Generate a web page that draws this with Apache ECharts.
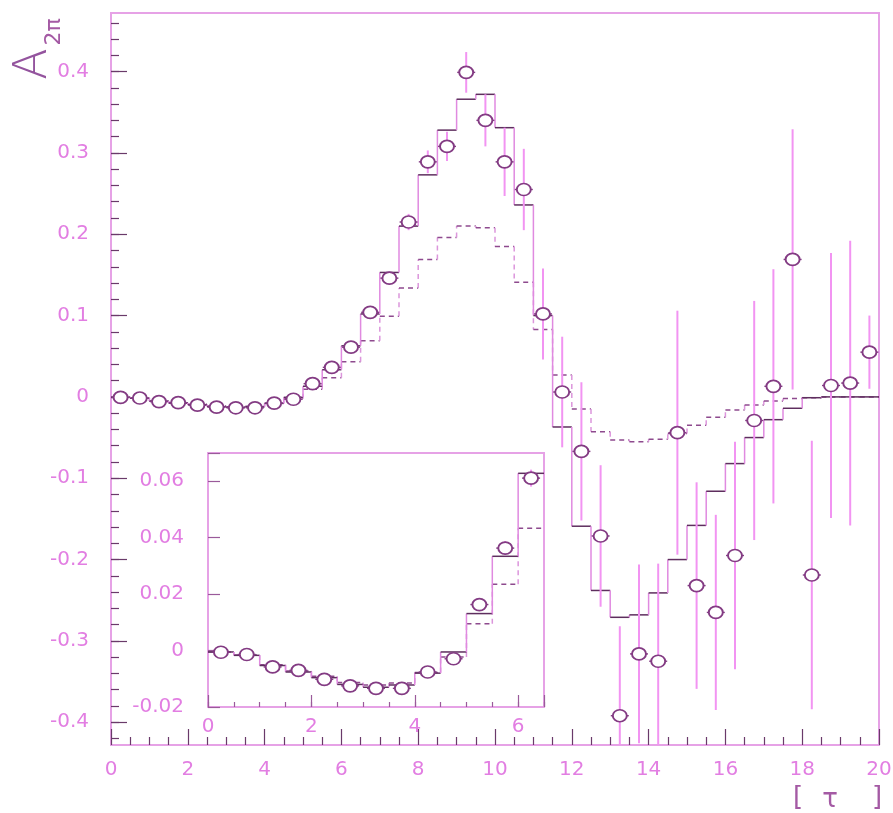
<!DOCTYPE html>
<html>
<head>
<meta charset="utf-8">
<script src="https://cdn.jsdelivr.net/npm/echarts@6/dist/echarts.min.js"></script>
<style>html,body{margin:0;padding:0;background:#fff}#c{width:893px;height:813px}</style>
</head>
<body>
<div id="c"></div>
<script>
// ---------------- data ----------------
const binEdges = [0,0.5,1,1.5,2,2.5,3,3.5,4,4.5,5,5.5,6,6.5,7,7.5,8,8.5,9,9.5,10,10.5,11,11.5,12,12.5,13,13.5,14,14.5,15,15.5,16,16.5,17,17.5,18,18.5,19,19.5,20];
const binCenters = [0.25,0.75,1.25,1.75,2.25,2.75,3.25,3.75,4.25,4.75,5.25,5.75,6.25,6.75,7.25,7.75,8.25,8.75,9.25,9.75,10.25,10.75,11.25,11.75,12.25,12.75,13.25,13.75,14.25,14.75,15.25,15.75,16.25,16.75,17.25,17.75,18.25,18.75,19.25,19.75];
const dataValues = [-0.0006,-0.0014,-0.0058,-0.0070,-0.0102,-0.0125,-0.0134,-0.0134,-0.0076,-0.0029,
  0.0163,0.0363,0.0611,0.104,0.146,0.215,0.289,0.308,0.399,0.340,
  0.289,0.255,0.102,0.006,-0.067,-0.171,-0.392,-0.316,-0.325,-0.044,
  -0.232,-0.265,-0.195,-0.029,0.013,0.169,-0.219,0.014,0.017,0.055];
const dataErrors = [0.0008,0.0008,0.0008,0.0008,0.0009,0.0009,0.001,0.001,0.0012,0.0014,
  0.0018,0.0025,0.003,0.006,0.008,0.010,0.014,0.018,0.025,0.032,
  0.042,0.050,0.056,0.068,0.085,0.087,0.110,0.110,0.120,0.150,
  0.127,0.120,0.140,0.147,0.144,0.160,0.165,0.163,0.175,0.045];
const solidHist = [-0.0005,-0.0017,-0.0053,-0.0076,-0.0096,-0.0120,-0.0130,-0.0122,-0.0080,-0.0005,
  0.0131,0.0334,0.0628,0.102,0.153,0.210,0.273,0.328,0.366,0.372,
  0.331,0.236,0.100,-0.037,-0.159,-0.238,-0.271,-0.268,-0.241,-0.200,
  -0.158,-0.116,-0.082,-0.050,-0.028,-0.014,-0.001,0.000,0.000,0.000];
const dashedHist = [-0.0005,-0.0016,-0.0050,-0.0072,-0.0091,-0.0113,-0.0122,-0.0115,-0.0078,-0.0023,
  0.0095,0.0235,0.0433,0.069,0.099,0.134,0.169,0.196,0.210,0.208,
  0.185,0.141,0.083,0.027,-0.015,-0.043,-0.053,-0.055,-0.052,-0.045,
  -0.035,-0.025,-0.016,-0.010,-0.005,-0.002,-0.001,0.000,0.000,0.000];
const mainXTickLabels = ['0','2','4','6','8','10','12','14','16','18','20'];
const mainYTickLabels = ['-0.4','-0.3','-0.2','-0.1','0','0.1','0.2','0.3','0.4'];
const insetXTickLabels = ['0','2','4','6'];
const insetYTickLabels = ['-0.02','0','0.02','0.04','0.06'];
const insetBinCount = 13;
const yTitleMain = 'A';
const yTitleSub = '2π';
const xTitleParts = ['[', 'τ', ']'];

// ---------------- style / layout ----------------
const FONT = "'DejaVu Sans', sans-serif";
const pinkLabel = '#e27ee2';
const frameColor = '#e6a2e6';
const tickDark = '#6a3a6a';
const tickInset = '#9a5a9a';
const errColor = '#f294f2';
const histH = '#5e2e5e';
const histV = '#e08ae0';
const dashH = '#8e4a8e';
const dashV = '#dc96dc';
const markerColor = '#833b83';

const G = {left:111, top:13, width:768, height:732};
const yMin = -0.428, yMax = 0.472;
const K = G.height / (yMax - yMin);
const IG = {left:208, top:453, width:336, height:254};

function fmt(v, list, d) {
  const s = Math.abs(v) < 1e-9 ? '0' : String(+v.toFixed(d));
  return list.indexOf(s) >= 0 ? s : '';
}

function histItems(vals, n) {
  const out = [];
  for (let i = 0; i < n; i++) {
    const nxt = (i + 1 < n) ? vals[i + 1] : vals[i];
    out.push([binEdges[i], binEdges[i + 1], vals[i], nxt]);
  }
  return out;
}
function histRender(hc, vc, dash) {
  return function (params, api) {
    const x0 = api.value(0), x1 = api.value(1), y = api.value(2), yn = api.value(3);
    const p0 = api.coord([x0, y]), p1 = api.coord([x1, y]), p2 = api.coord([x1, yn]);
    return {type:'group', children:[
      {type:'line', shape:{x1:p0[0], y1:p0[1], x2:p1[0], y2:p1[1]}, style:{stroke:hc, lineWidth:1.5, lineDash:dash}},
      {type:'line', shape:{x1:p1[0], y1:p1[1], x2:p2[0], y2:p2[1]}, style:{stroke:vc, lineWidth:1.5, lineDash:dash}}
    ]};
  };
}
function errRender(params, api) {
  const x = api.value(0), y = api.value(1), e = api.value(2);
  const t = api.coord([x, y + e]), b = api.coord([x, y - e]), c = api.coord([x, y]);
  return {type:'group', children:[
    {type:'line', shape:{x1:t[0], y1:t[1], x2:b[0], y2:b[1]}, style:{stroke:errColor, lineWidth:2}},
    {type:'line', shape:{x1:c[0]-9, y1:c[1], x2:c[0]+9, y2:c[1]}, style:{stroke:markerColor, lineWidth:1.4}}
  ]};
}
function pointItems(n) { const o = []; for (let i = 0; i < n; i++) o.push([binCenters[i], dataValues[i]]); return o; }
function errItems(n) { const o = []; for (let i = 0; i < n; i++) o.push([binCenters[i], dataValues[i], dataErrors[i]]); return o; }

function seriesFor(xi, yi, n) {
  return [
    {type:'custom', xAxisIndex:xi, yAxisIndex:yi, clip:true, z:2, renderItem:histRender(dashH, dashV, [5,4]),
      encode:{x:[0,1], y:2}, data:histItems(dashedHist, n)},
    {type:'custom', xAxisIndex:xi, yAxisIndex:yi, clip:true, z:3, renderItem:histRender(histH, histV, null),
      encode:{x:[0,1], y:2}, data:histItems(solidHist, n)},
    {type:'custom', xAxisIndex:xi, yAxisIndex:yi, clip:true, z:4, renderItem:errRender,
      encode:{x:0, y:1}, data:errItems(n)},
    {type:'scatter', xAxisIndex:xi, yAxisIndex:yi, clip:true, z:5, symbol:'circle', symbolSize:[14,12],
      itemStyle:{color:'#ffffff', borderColor:markerColor, borderWidth:1.8, opacity:1},
      data:pointItems(n)}
  ];
}

const labelStyle = {color:pinkLabel, fontSize:20, fontFamily:FONT};
const noSplit = {show:false};
const hiddenLine = {show:false, onZero:false};

const option = {
  animation:false,
  backgroundColor:'#ffffff',
  grid:[
    {left:G.left, top:G.top, width:G.width, height:G.height, show:true, borderColor:frameColor, borderWidth:2, backgroundColor:'transparent', outerBoundsMode:'none'},
    {left:G.left, top:G.top + (yMax-0.4)*K, width:G.width, height:0.8*K, show:false, outerBoundsMode:'none'},
    {left:G.left, top:G.top + (yMax-0.46)*K, width:G.width, height:0.88*K, show:false, outerBoundsMode:'none'},
    {left:IG.left, top:IG.top, width:IG.width, height:IG.height, show:true, borderColor:frameColor, borderWidth:2, backgroundColor:'#ffffff', outerBoundsMode:'none'},
    {left:IG.left, top:IG.top, width:IG.width, height:IG.height, show:false, outerBoundsMode:'none'}
  ],
  xAxis:[
    {gridIndex:0, type:'value', position:'bottom', min:0, max:20, interval:2, axisLine:hiddenLine,
      axisTick:{inside:true, length:16, lineStyle:{color:tickDark, width:1.2}},
      minorTick:{show:true, splitNumber:4, length:8, lineStyle:{color:tickDark, width:1.2}},
      axisLabel:Object.assign({margin:15, formatter:v => fmt(v, mainXTickLabels, 1)}, labelStyle),
      splitLine:noSplit, minorSplitLine:noSplit},
    {gridIndex:1, type:'value', min:0, max:20, show:false, axisLine:hiddenLine},
    {gridIndex:2, type:'value', min:0, max:20, show:false, axisLine:hiddenLine},
    {gridIndex:3, type:'value', position:'bottom', min:0, max:6.5, interval:2, axisLine:hiddenLine,
      axisTick:{inside:true, length:12, lineStyle:{color:tickInset, width:1.2}},
      axisLabel:Object.assign({margin:10, formatter:v => fmt(v, insetXTickLabels, 1)}, labelStyle),
      splitLine:noSplit},
    {gridIndex:4, type:'value', position:'bottom', min:0, max:6.5, interval:0.5, axisLine:hiddenLine,
      axisTick:{inside:true, length:5, lineStyle:{color:tickInset, width:1.2}},
      axisLabel:{show:false}, splitLine:noSplit}
  ],
  yAxis:[
    {gridIndex:0, type:'value', min:yMin, max:yMax, show:false, axisLine:hiddenLine, splitLine:noSplit},
    {gridIndex:1, type:'value', position:'left', min:-0.4, max:0.4, interval:0.1, axisLine:hiddenLine,
      axisTick:{inside:true, length:16, lineStyle:{color:tickDark, width:1.2}},
      axisLabel:Object.assign({margin:22, formatter:v => fmt(v, mainYTickLabels, 2)}, labelStyle),
      splitLine:noSplit},
    {gridIndex:2, type:'value', position:'left', min:-0.42, max:0.46, interval:0.02, axisLine:hiddenLine,
      axisTick:{inside:true, length:8, lineStyle:{color:tickDark, width:1.2}},
      axisLabel:{show:false}, splitLine:noSplit},
    {gridIndex:3, type:'value', position:'left', min:-0.02, max:0.07, interval:0.02, axisLine:hiddenLine,
      axisTick:{inside:true, length:12, lineStyle:{color:tickInset, width:1.2}},
      axisLabel:Object.assign({margin:24, formatter:v => fmt(v, insetYTickLabels, 3)}, labelStyle),
      splitLine:noSplit},
    {gridIndex:4, type:'value', min:-0.02, max:0.07, show:false, axisLine:hiddenLine}
  ],
  series:[].concat(seriesFor(0, 0, binCenters.length), seriesFor(3, 3, insetBinCount)),
  graphic:[
    {type:'text', x:34, y:64, rotation:Math.PI/2, z:10,
      style:{text:yTitleMain, font:"200 46px 'DejaVu Sans', sans-serif", fill:'#94549e', align:'center', verticalAlign:'middle'}},
    {type:'text', x:54, y:32, rotation:Math.PI/2, z:10,
      style:{text:yTitleSub, font:"22px 'DejaVu Sans', sans-serif", fill:'#a45aa4', align:'center', verticalAlign:'middle'}},
    {type:'text', x:798, y:798, z:10,
      style:{text:xTitleParts[0], font:"26px 'DejaVu Sans', sans-serif", fill:'#a45aa4', align:'center', verticalAlign:'middle'}},
    {type:'text', x:830, y:800, z:10,
      style:{text:xTitleParts[1], font:"26px 'DejaVu Sans', sans-serif", fill:'#a45aa4', align:'center', verticalAlign:'middle'}},
    {type:'text', x:877, y:798, z:10,
      style:{text:xTitleParts[2], font:"26px 'DejaVu Sans', sans-serif", fill:'#a45aa4', align:'center', verticalAlign:'middle'}}
  ]
};

const chart = echarts.init(document.getElementById('c'), null, {renderer:'canvas'});
chart.setOption(option);
</script>
</body>
</html>
